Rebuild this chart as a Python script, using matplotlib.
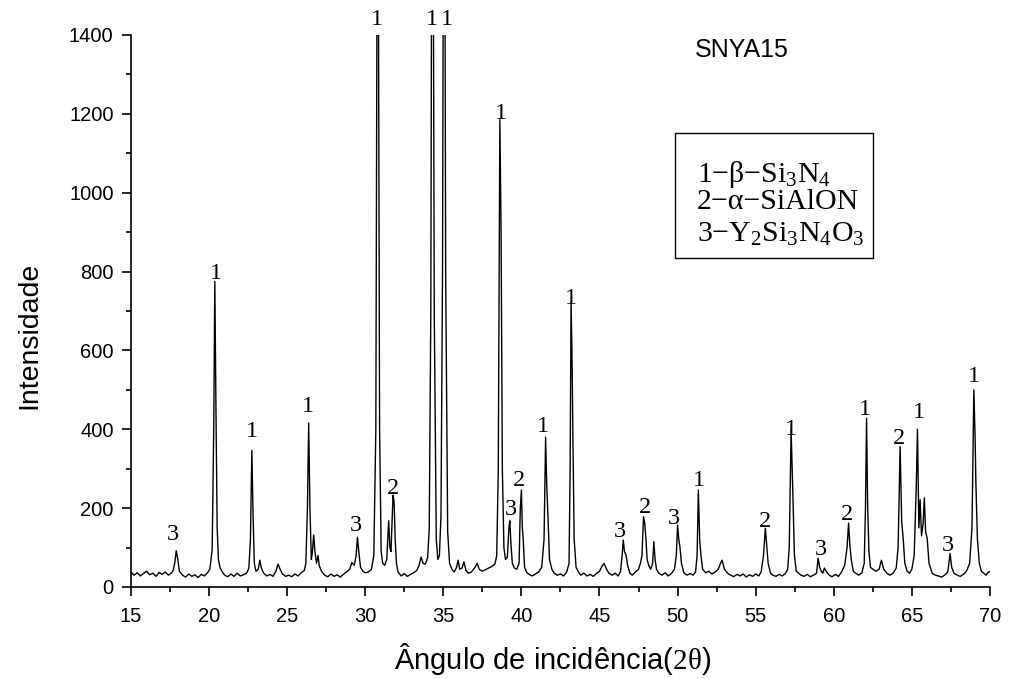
import matplotlib
matplotlib.use("Agg")
import matplotlib.pyplot as plt
from matplotlib.patches import Rectangle
from matplotlib.ticker import MultipleLocator

plt.rcParams['font.family'] = ['Liberation Sans', 'DejaVu Sans']
plt.rcParams['mathtext.fontset'] = 'custom'
plt.rcParams['mathtext.rm'] = 'Liberation Serif'
plt.rcParams['mathtext.it'] = 'Liberation Serif'
plt.rcParams['mathtext.bf'] = 'Liberation Serif:bold'

# difratograma (2theta, intensidade)
two_theta = [
    15.0, 15.2, 15.4, 15.6, 15.8, 16.0, 16.2, 16.4, 16.6, 16.8, 17.0, 17.2, 17.4, 17.6, 17.7, 17.8, 17.9, 18.0,
    18.1, 18.3, 18.5, 18.7, 18.9, 19.1, 19.3, 19.5, 19.7, 19.9, 20.05, 20.2, 20.3, 20.37, 20.45, 20.52, 20.6,
    20.7, 20.85, 21.0, 21.2, 21.4, 21.6, 21.8, 22.0, 22.2, 22.4, 22.55, 22.65, 22.74, 22.82, 22.9, 23.0, 23.15,
    23.25, 23.35, 23.5, 23.7, 23.9, 24.1, 24.3, 24.42, 24.55, 24.7, 24.9, 25.1, 25.3, 25.5, 25.7, 25.9, 26.1,
    26.2, 26.3, 26.38, 26.46, 26.55, 26.62, 26.7, 26.78, 26.88, 26.98, 27.05, 27.2, 27.4, 27.6, 27.8, 28.0,
    28.2, 28.4, 28.6, 28.8, 29.0, 29.15, 29.3, 29.42, 29.5, 29.6, 29.7, 29.85, 30.0, 30.2, 30.4, 30.55, 30.68,
    30.8, 30.92, 31.02, 31.12, 31.25, 31.38, 31.5, 31.58, 31.65, 31.78, 31.85, 31.92, 32.0, 32.1, 32.3, 32.5,
    32.7, 32.9, 33.1, 33.3, 33.45, 33.58, 33.7, 33.85, 34.0, 34.1, 34.2, 34.3, 34.42, 34.55, 34.65, 34.75,
    34.85, 34.95, 35.05, 35.15, 35.28, 35.4, 35.55, 35.7, 35.85, 35.95, 36.05, 36.2, 36.32, 36.45, 36.6, 36.8,
    37.0, 37.17, 37.3, 37.5, 37.7, 37.9, 38.1, 38.3, 38.42, 38.52, 38.62, 38.7, 38.78, 38.88, 38.98, 39.1,
    39.2, 39.26, 39.33, 39.42, 39.55, 39.7, 39.85, 39.93, 40.0, 40.06, 40.12, 40.2, 40.35, 40.5, 40.7, 40.9,
    41.1, 41.3, 41.45, 41.55, 41.62, 41.7, 41.8, 41.95, 42.1, 42.3, 42.5, 42.7, 42.9, 43.05, 43.12, 43.18,
    43.25, 43.3, 43.38, 43.5, 43.65, 43.8, 44.0, 44.2, 44.4, 44.6, 44.8, 45.0, 45.15, 45.3, 45.45, 45.6, 45.8,
    46.0, 46.2, 46.35, 46.45, 46.52, 46.6, 46.7, 46.8, 46.95, 47.1, 47.3, 47.5, 47.62, 47.72, 47.82, 47.9,
    47.98, 48.05, 48.15, 48.28, 48.4, 48.48, 48.56, 48.65, 48.8, 49.0, 49.2, 49.4, 49.6, 49.8, 49.92, 50.0,
    50.08, 50.15, 50.25, 50.4, 50.6, 50.8, 51.0, 51.15, 51.25, 51.33, 51.42, 51.5, 51.6, 51.8, 52.0, 52.2,
    52.4, 52.6, 52.75, 52.85, 53.0, 53.2, 53.4, 53.6, 53.8, 54.0, 54.2, 54.4, 54.6, 54.8, 55.0, 55.2, 55.35,
    55.5, 55.62, 55.7, 55.8, 55.95, 56.1, 56.3, 56.5, 56.7, 56.9, 57.05, 57.15, 57.27, 57.34, 57.4, 57.48,
    57.6, 57.75, 57.9, 58.1, 58.3, 58.5, 58.7, 58.9, 59.0, 59.1, 59.2, 59.3, 59.4, 59.55, 59.7, 59.9, 60.1,
    60.3, 60.5, 60.7, 60.85, 60.95, 61.03, 61.12, 61.25, 61.4, 61.6, 61.8, 61.95, 62.03, 62.1, 62.17, 62.25,
    62.35, 62.5, 62.7, 62.9, 63.05, 63.2, 63.4, 63.6, 63.8, 64.0, 64.12, 64.25, 64.35, 64.45, 64.55, 64.7,
    64.85, 65.0, 65.15, 65.28, 65.36, 65.45, 65.53, 65.62, 65.72, 65.8, 65.88, 65.98, 66.1, 66.3, 66.5, 66.7,
    66.9, 67.1, 67.3, 67.45, 67.55, 67.7, 67.9, 68.1, 68.3, 68.5, 68.7, 68.85, 68.97, 69.05, 69.1, 69.2,
    69.32, 69.45, 69.6, 69.75, 69.9, 70.0,
]
intensidade = [
    38, 30, 36, 28, 34, 40, 31, 35, 27, 37, 32, 38, 30, 36, 42, 60, 92, 70,
    40, 30, 25, 33, 27, 31, 24, 32, 28, 36, 45, 95, 400, 775, 420, 150, 70,
    50, 38, 30, 26, 33, 27, 35, 28, 31, 35, 48, 120, 346, 180, 60, 40, 45,
    68, 48, 35, 28, 32, 27, 42, 58, 45, 33, 27, 30, 26, 33, 28, 36, 42,
    60, 200, 416, 200, 70, 90, 132, 90, 60, 80, 55, 40, 30, 26, 33, 27,
    31, 25, 32, 38, 45, 62, 55, 80, 126, 85, 50, 40, 36, 38, 45, 80, 400,
    2200, 400, 90, 60, 55, 70, 168, 100, 90, 233, 215, 120, 60, 38, 28, 34,
    27, 32, 36, 42, 55, 76, 60, 58, 75, 150, 700, 2500, 700, 120, 70, 80,
    180, 800, 2500, 800, 140, 60, 45, 38, 50, 68, 45, 48, 64, 42, 35, 38,
    48, 60, 45, 40, 44, 48, 52, 58, 80, 300, 1185, 900, 300, 100, 70, 75,
    150, 168, 110, 60, 48, 45, 60, 200, 246, 150, 120, 50, 36, 32, 28, 33,
    38, 50, 120, 380, 260, 180, 70, 45, 35, 30, 33, 28, 38, 60, 300, 723,
    560, 368, 120, 50, 38, 30, 35, 28, 32, 27, 34, 40, 52, 60, 45, 35, 30,
    35, 28, 40, 80, 119, 90, 81, 55, 35, 30, 38, 45, 60, 80, 178, 160,
    119, 70, 55, 45, 60, 115, 70, 45, 35, 30, 36, 28, 34, 45, 80, 157,
    120, 102, 60, 36, 30, 34, 30, 38, 80, 246, 115, 80, 45, 36, 40, 33,
    38, 45, 60, 68, 45, 35, 30, 26, 32, 28, 33, 25, 31, 27, 33, 28, 38,
    80, 149, 110, 60, 35, 30, 27, 32, 28, 34, 45, 100, 398, 300, 208, 80,
    40, 35, 30, 27, 32, 26, 30, 35, 73, 50, 40, 35, 48, 38, 30, 26, 32,
    27, 38, 55, 100, 162, 107, 70, 40, 35, 30, 36, 60, 200, 428, 205, 90,
    50, 45, 40, 45, 68, 45, 35, 30, 35, 48, 100, 356, 166, 120, 60, 40,
    35, 45, 80, 250, 400, 150, 221, 130, 160, 226, 140, 124, 60, 35, 30, 28,
    25, 30, 38, 85, 50, 35, 30, 27, 32, 40, 60, 150, 500, 380, 264, 120,
    60, 40, 35, 30, 38, 39,
]

# rótulos das fases sobre os picos
label_x = [17.7, 20.44, 22.72, 26.31, 29.4, 30.73, 31.8, 34.27, 35.2, 38.69, 39.33, 39.86, 41.4, 43.17,
           46.3, 47.9, 49.76, 51.36, 55.6, 57.25, 59.17, 60.82, 61.99, 64.19, 65.45, 67.28, 68.97]
label_y = [134, 794, 394, 457, 155, 1438, 250, 1438, 1438, 1202, 197, 271, 407, 732,
           140, 202, 174, 270, 166, 400, 94, 183, 449, 377, 443, 104, 533]
label_txt = ['3', '1', '1', '1', '3', '1', '2', '1', '1', '1', '3', '2', '1', '1',
             '3', '2', '3', '1', '2', '1', '3', '2', '1', '2', '1', '3', '1']

legenda = [r'1−β−Si$_3$N$_4$', r'2−α−SiAlON', r'3−Y$_2$Si$_3$N$_4$O$_3$']

fig = plt.figure(figsize=(10.12, 6.79), dpi=100)
ax = fig.add_axes([0.1294, 0.1355, 0.8488, 0.813])

ax.plot(two_theta, intensidade, color='black', lw=1.0)

for x, y, t in zip(label_x, label_y, label_txt):
    ax.text(x, y, t, ha='center', va='center', fontsize=17.5, family='Liberation Serif', clip_on=False)

ax.text(54.1, 1362, 'SNYA15', ha='center', va='center', fontsize=18)

# caixa da legenda
ax.add_patch(Rectangle((0.633, 0.596), 0.231, 0.226, transform=ax.transAxes,
                       fill=False, edgecolor='black', lw=1.0))
for yy, s in zip([0.734, 0.684, 0.625], legenda):
    ax.text(0.659, yy, s, transform=ax.transAxes, ha='left', va='baseline',
            fontsize=21.5, family='Liberation Serif')

ax.set_xlim(15, 70)
ax.set_ylim(0, 1400)
ax.xaxis.set_major_locator(MultipleLocator(5))
ax.xaxis.set_minor_locator(MultipleLocator(2.5))
ax.yaxis.set_major_locator(MultipleLocator(200))
ax.yaxis.set_minor_locator(MultipleLocator(100))

ax.spines['top'].set_visible(False)
ax.spines['right'].set_visible(False)
for s in ['left', 'bottom']:
    ax.spines[s].set_linewidth(1.2)
ax.tick_params(which='major', direction='out', length=6.5, width=1.2, labelsize=14.5)
ax.tick_params(which='minor', direction='out', length=3.5, width=1.2)
ax.tick_params(axis='x', which='major', pad=8)
ax.tick_params(axis='y', which='major', pad=6)

ax.set_ylabel('Intensidade', fontsize=20.5)
ax.yaxis.set_label_coords(-0.103, 0.455)
ax.set_xlabel(r'Ângulo de incidência($\mathrm{2\theta}$)', fontsize=21)
ax.xaxis.set_label_coords(0.491, -0.097)

fig.savefig('out.png', dpi=100)
